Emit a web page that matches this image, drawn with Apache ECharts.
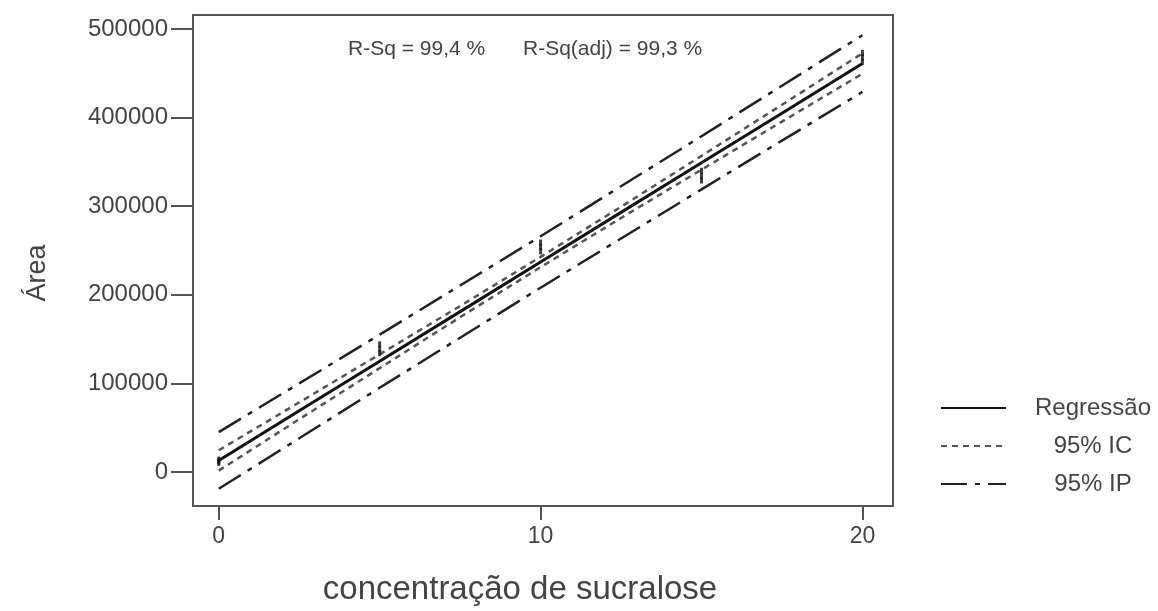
<!DOCTYPE html>
<html><head><meta charset="utf-8">
<script src="https://cdn.jsdelivr.net/npm/echarts@6/dist/echarts.min.js"></script>
<style>html,body{margin:0;padding:0;background:#fff}#c{width:1158px;height:611px}</style>
</head><body><div id="c"></div>
<script>
// Data
const xBand = [0, 2.5, 5, 7.5, 10, 12.5, 15, 17.5, 20];
const regression = [13000, 69000, 125000, 181000, 237000, 293000, 349000, 405000, 461000];
const ciUpper = [24500, 78500, 132800, 187300, 242800, 299300, 356800, 414500, 472500];
const ciLower = [1500, 59500, 117200, 174700, 231200, 286700, 341200, 395500, 449500];
const piUpper = [45000, 100000, 155000, 210500, 266000, 322500, 379000, 436000, 493000];
const piLower = [-19000, 38000, 95000, 151500, 208000, 263500, 319000, 374000, 429000];
const pointX = [0, 0, 0, 5, 5, 5, 10, 10, 10, 15, 15, 15, 20, 20, 20];
const pointY = [10000, 12000, 14000, 134000, 139000, 144000, 249000, 254000, 259000, 329000, 334000, 340000, 463000, 468000, 473000];
const xTicks = [0, 10, 20];
const yTicks = [0, 100000, 200000, 300000, 400000, 500000];
const seriesNames = ['Regressão', '95% IC', '95% IP'];
const rsqText = 'R-Sq = 99,4 %';
const rsqAdjText = 'R-Sq(adj) = 99,3 %';

const pair = (xs, ys) => xs.map((x, i) => [x, ys[i]]);
const font = 'Liberation Sans, Arial, sans-serif';
const txt = '#444';
const chart = echarts.init(document.getElementById('c'));
chart.setOption({
  animation: false,
  backgroundColor: '#fff',
  textStyle: { fontFamily: font },
  title: [
    { text: rsqText, left: 343, top: 34,
      textStyle: { fontSize: 21, fontWeight: 'normal', color: txt, fontFamily: font } },
    { text: rsqAdjText, left: 518, top: 34,
      textStyle: { fontSize: 21, fontWeight: 'normal', color: txt, fontFamily: font } }
  ],
  grid: { left: 193, top: 15, right: 265, bottom: 105, show: true, borderColor: '#555', borderWidth: 2 },
  legend: {
    orient: 'vertical', left: 935, top: 391, itemWidth: 65, itemHeight: 14, itemGap: 14,
    data: seriesNames,
    itemStyle: { color: 'rgba(0,0,0,0)', borderColor: 'rgba(0,0,0,0)', borderWidth: 0, opacity: 0 },
    formatter: name => '{c|' + name + '}',
    textStyle: { fontSize: 24, color: txt, fontFamily: font, padding: [0, 0, 0, 22],
      rich: { c: { width: 120, align: 'center', fontSize: 24, color: txt, fontFamily: font } } }
  },
  xAxis: {
    type: 'value', min: -0.8, max: 20.95,
    name: 'concentração de sucralose', nameLocation: 'middle', nameGap: 67,
    nameTextStyle: { fontSize: 33, color: txt, fontFamily: font, padding: [0, 46, 0, 0] },
    axisLine: { show: true, onZero: false, lineStyle: { color: '#555', width: 2 } },
    axisTick: { show: true, inside: false, length: 14, customValues: xTicks, lineStyle: { color: '#555', width: 2 } },
    axisLabel: { customValues: xTicks, fontSize: 23, color: txt, margin: 19, fontFamily: font },
    splitLine: { show: false }
  },
  yAxis: {
    type: 'value', min: -38400, max: 515800,
    name: 'Área', nameLocation: 'middle', nameGap: 142, nameRotate: 90,
    nameTextStyle: { fontSize: 27, color: txt, fontFamily: font, padding: [0, 25, 0, 0] },
    axisLine: { show: true, onZero: false, lineStyle: { color: '#555', width: 2 } },
    axisTick: { show: true, length: 22, customValues: yTicks, lineStyle: { color: '#555', width: 2 } },
    axisLabel: { customValues: yTicks, fontSize: 24, color: txt, margin: 25, fontFamily: font,
      formatter: v => String(v) },
    splitLine: { show: false }
  },
  series: [
    { name: seriesNames[0], type: 'line', symbol: 'none', data: pair(xBand, regression),
      lineStyle: { color: '#111', width: 3, type: 'solid' }, itemStyle: { color: '#111' }, z: 5 },
    { name: seriesNames[1], type: 'line', symbol: 'none', data: pair(xBand, ciUpper),
      lineStyle: { color: '#555', width: 2.5, type: [6, 5] }, itemStyle: { color: '#555' } },
    { name: seriesNames[1], type: 'line', symbol: 'none', data: pair(xBand, ciLower),
      lineStyle: { color: '#555', width: 2.5, type: [6, 5] }, itemStyle: { color: '#555' } },
    { name: seriesNames[2], type: 'line', symbol: 'none', data: pair(xBand, piUpper),
      lineStyle: { color: '#222', width: 2.5, type: [26, 8, 5, 8] }, itemStyle: { color: '#222' } },
    { name: seriesNames[2], type: 'line', symbol: 'none', data: pair(xBand, piLower),
      lineStyle: { color: '#222', width: 2.5, type: [26, 8, 5, 8] }, itemStyle: { color: '#222' } },
    { name: 'pontos', type: 'scatter', symbol: 'rect', symbolSize: [3, 6], data: pair(pointX, pointY),
      itemStyle: { color: '#111' }, z: 6 }
  ]
});
</script></body></html>
